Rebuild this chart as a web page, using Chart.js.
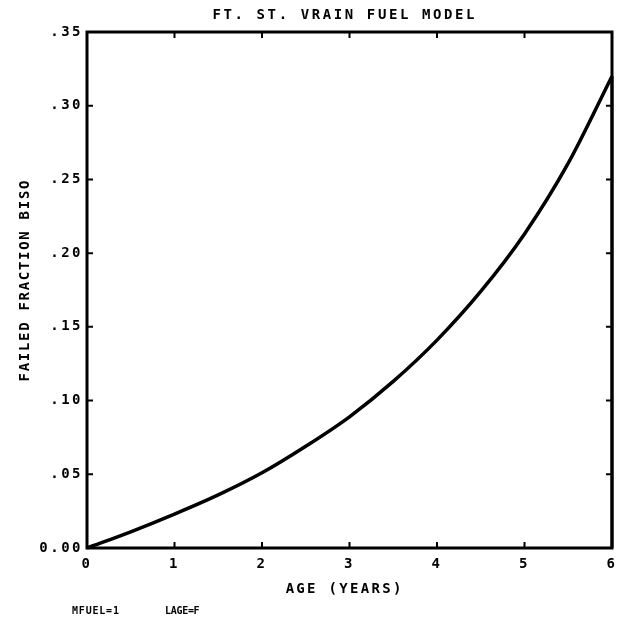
<!DOCTYPE html>
<html>
<head>
<meta charset="utf-8">
<title>FT. ST. VRAIN FUEL MODEL</title>
<script src="https://cdn.jsdelivr.net/npm/chart.js@4/dist/chart.umd.min.js"></script>
<style>
  html, body { margin: 0; padding: 0; background: #fff; }
  canvas { display: block; }
</style>
</head>
<body>
<canvas id="fuelChart" width="629" height="622"></canvas>
<script>
(function () {
    'use strict';

    // age in years vs failed BISO fraction
    var ages = [0, 0.5, 1, 1.5, 2, 2.5, 3, 3.5, 4, 4.5, 5, 5.5, 6];
    var failedFraction = [0, 0.011, 0.023, 0.036, 0.051, 0.069, 0.089, 0.113, 0.141, 0.174, 0.213, 0.261, 0.320];
    var closeTo = 0; // the plotter pen drops back to the axis at the last age

    var xTicks = [0, 1, 2, 3, 4, 5, 6];
    var yTicks = [0, 0.05, 0.10, 0.15, 0.20, 0.25, 0.30, 0.35];

    var title = 'FT. ST. VRAIN FUEL MODEL';
    var xTitle = 'AGE (YEARS)';
    var yTitle = 'FAILED FRACTION BISO';
    var notes = ['MFUEL=1', 'LAGE=F'];

    var ink = '#000';
    var mono = '"DejaVu Sans Mono", monospace';

    var last = ages.length - 1;
    var curve = ages.map(function (a, i) { return { x: a, y: failedFraction[i] }; });
    var drop = [
        { x: ages[last], y: failedFraction[last] },
        { x: ages[last], y: closeTo },
    ];

    function yLabel(v) {
        if (v === 0) return '0.00';
        return v.toFixed(2).replace(/^0/, '');
    }

    function spaced(ctx, text, x, y, font, spacing) {
        ctx.font = font;
        ctx.letterSpacing = spacing + 'px';
        // trailing spacing would push centred text left
        ctx.fillText(text, x + spacing / 2, y);
    }

    var plotterFrame = {
        id: 'plotterFrame',
        beforeDraw: function (chart) {
            chart.ctx.letterSpacing = '2.5px';
        },
        afterDraw: function (chart) {
            var ctx = chart.ctx;
            var a = chart.chartArea;
            var x = chart.scales.x;
            var y = chart.scales.y;
            var tick = 6;

            ctx.save();
            ctx.strokeStyle = ink;
            ctx.lineWidth = 3;
            ctx.strokeRect(a.left, a.top, a.right - a.left, a.bottom - a.top);

            ctx.lineWidth = 2;
            ctx.beginPath();
            x.ticks.forEach(function (t) {
                var px = x.getPixelForValue(t.value);
                ctx.moveTo(px, a.bottom);
                ctx.lineTo(px, a.bottom - tick);
                ctx.moveTo(px, a.top);
                ctx.lineTo(px, a.top + tick);
            });
            y.ticks.forEach(function (t) {
                var py = y.getPixelForValue(t.value);
                ctx.moveTo(a.left, py);
                ctx.lineTo(a.left + tick, py);
                ctx.moveTo(a.right, py);
                ctx.lineTo(a.right - tick, py);
            });
            ctx.stroke();

            ctx.fillStyle = ink;
            ctx.textAlign = 'center';
            ctx.textBaseline = 'middle';
            var midX = (a.left + a.right) / 2;

            spaced(ctx, title, midX - 6, 15, 'bold 14px ' + mono, 2.6);
            spaced(ctx, xTitle, midX - 6, 589, 'bold 14px ' + mono, 2.3);

            ctx.save();
            ctx.translate(25, (a.top + a.bottom) / 2 - 9);
            ctx.rotate(-Math.PI / 2);
            spaced(ctx, yTitle, 0, 0, 'bold 14px ' + mono, 1.7);
            ctx.restore();

            ctx.textAlign = 'left';
            ctx.letterSpacing = '0.8px';
            ctx.font = 'bold 10px ' + mono;
            ctx.fillText(notes[0], 72, 611);
            ctx.letterSpacing = '-0.3px';
            ctx.fillText(notes[1], 165, 611);
            ctx.restore();
            ctx.letterSpacing = '0px';
        },
    };

    new Chart(document.getElementById('fuelChart'), {
        type: 'line',
        data: {
            datasets: [
                {
                    data: curve,
                    borderColor: ink,
                    borderWidth: 3.5,
                    pointRadius: 0,
                    cubicInterpolationMode: 'monotone',
                    fill: false,
                    clip: false,
                },
                {
                    data: drop,
                    borderColor: ink,
                    borderWidth: 3,
                    pointRadius: 0,
                    fill: false,
                    clip: false,
                },
            ],
        },
        options: {
            responsive: false,
            animation: false,
            events: [],
            layout: { padding: { top: 32, right: 17, left: 0, bottom: 0 } },
            plugins: {
                legend: { display: false },
                title: { display: false },
                tooltip: { enabled: false },
            },
            scales: {
                x: {
                    type: 'linear',
                    min: 0,
                    max: 6,
                    afterBuildTicks: function (s) { s.ticks = xTicks.map(function (v) { return { value: v }; }); },
                    afterFit: function (s) { s.height = 74; },
                    grid: { display: false, drawTicks: false },
                    border: { display: false },
                    ticks: {
                        color: ink,
                        padding: 8,
                        autoSkip: false,
                        maxRotation: 0,
                        font: { family: mono, size: 14, weight: 'bold' },
                    },
                },
                y: {
                    type: 'linear',
                    min: 0,
                    max: 0.35,
                    afterBuildTicks: function (s) { s.ticks = yTicks.map(function (v) { return { value: v }; }); },
                    afterFit: function (s) { s.width = 87; },
                    grid: { display: false, drawTicks: false },
                    border: { display: false },
                    ticks: {
                        color: ink,
                        padding: 4,
                        autoSkip: false,
                        callback: yLabel,
                        font: { family: mono, size: 14, weight: 'bold' },
                    },
                },
            },
        },
        plugins: [plotterFrame],
    });
})();
</script>
</body>
</html>
